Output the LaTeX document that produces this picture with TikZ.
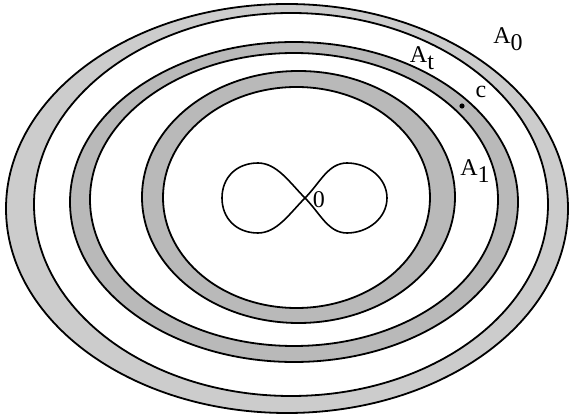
\documentclass[tikz,border=0pt]{standalone}
\usepackage{fontspec}
\setmainfont{Liberation Serif}
\newcommand{\lowsub}[1]{\raisebox{-0.6ex}{#1}}
\begin{document}
\begin{tikzpicture}[x=0.5pt,y=-0.5pt,
  band/.style={fill=gray!55,even odd rule,draw=black,line width=0.9pt},
  lbl/.style={inner sep=0pt,font=\fontsize{12}{14}\selectfont}]
  \useasboundingbox (0,0) rectangle (570,417);
  % Band A0 (outer)
  \path[band,fill=gray!40] (287,208.5) ellipse[x radius=281,y radius=204.5]
    (291,204.5) ellipse[x radius=257,y radius=191.5];
  % Band At
  \path[band] (294,202) ellipse[x radius=224,y radius=160]
    (294,199.5) ellipse[x radius=204,y radius=146.5];
  % Band A1 (inner)
  \path[band] (298.5,197) ellipse[x radius=156.5,y radius=126]
    (296.5,197.5) ellipse[x radius=133.5,y radius=110.5];
  % Figure eight through 0
  \coordinate (o) at (305,198);
  \draw[line width=0.8pt] (o) .. controls (290,183) and (277,163) .. (258,163)
    .. controls (236,163) and (222,178) .. (222,198)
    .. controls (222,218) and (236,233) .. (258,233)
    .. controls (277,233) and (290,213) .. (o)
    .. controls (320,183) and (328,163) .. (347,163)
    .. controls (368,163) and (387,178) .. (387,198)
    .. controls (387,218) and (368,233) .. (347,233)
    .. controls (328,233) and (320,213) .. (o);
  % Point c on At
  \fill (462,106) circle[radius=2.6];
  % Labels
  \node[lbl] (zero) at (319,200) {0};
  \node[lbl] (c) at (481,92) {c};
  \node[lbl] (a0) at (508,39) {A\lowsub{0}};
  \node[lbl] (at) at (422,58) {A\lowsub{t}};
  \node[lbl] (a1) at (475,171) {A\lowsub{1}};
\end{tikzpicture}
\end{document}
